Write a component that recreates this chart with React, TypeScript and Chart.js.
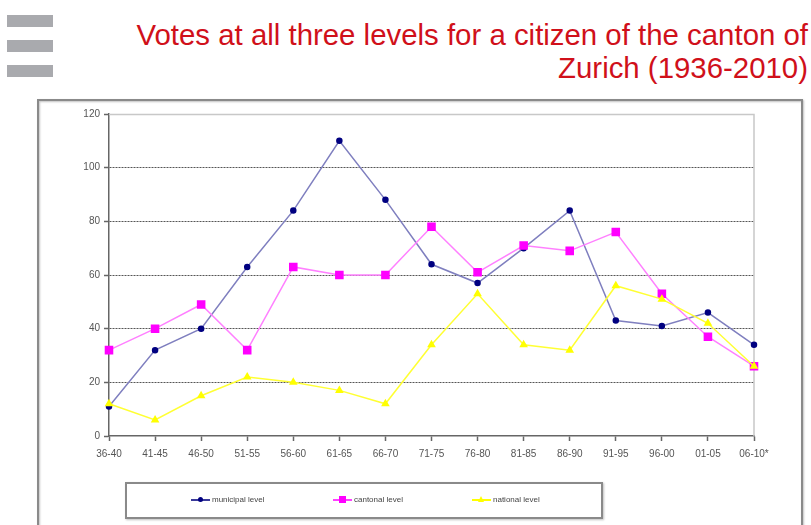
import React, { useEffect, useRef } from "react";
import { Chart, registerables } from "chart.js";

Chart.register(...registerables);

const categories = ["36-40", "41-45", "46-50", "51-55", "56-60", "61-65", "66-70", "71-75", "76-80", "81-85", "86-90", "91-95", "96-00", "01-05", "06-10*"];
const municipal = [11, 32, 40, 63, 84, 110, 88, 64, 57, 70, 84, 43, 41, 46, 34];
const cantonal = [32, 40, 49, 32, 63, 60, 60, 78, 61, 71, 69, 76, 53, 37, 26];
const national = [12, 6, 15, 22, 20, 17, 12, 34, 53, 34, 32, 56, 51, 42, 26];
const seriesNames = ["municipal level", "cantonal level", "national level"];
const titleLines = ["Votes at all three levels for a citizen of the canton of", "Zurich (1936-2010)"];
const yMax = 120;
const yStep = 20;

const TICK_FONT = { family: "'Liberation Sans', Arial, sans-serif", size: 10 };

const framePlugin = {
  id: "framePlugin",
  beforeDraw(chart: any) {
    const { ctx } = chart;
    ctx.save();
    ctx.strokeStyle = "#8a8a8a";
    ctx.lineWidth = 2;
    ctx.shadowColor = "rgba(0,0,0,0.25)";
    ctx.shadowBlur = 2;
    ctx.shadowOffsetX = 1;
    ctx.shadowOffsetY = 1;
    ctx.strokeRect(38, 100, 764, 460);
    ctx.restore();
  },
  beforeDatasetsDraw(chart: any) {
    const { ctx, chartArea } = chart;
    ctx.save();
    ctx.strokeStyle = "#c8c8c8";
    ctx.lineWidth = 1.5;
    ctx.beginPath();
    ctx.moveTo(chartArea.left, chartArea.top + 0.5);
    ctx.lineTo(chartArea.right, chartArea.top + 0.5);
    ctx.lineTo(chartArea.right, chartArea.bottom);
    ctx.stroke();
    ctx.restore();
  },
};

function LegendMarker({ kind, line, fill }: { kind: string; line: string; fill: string }) {
  let marker: React.ReactNode = null;
  if (kind === "circle") {
    marker = <div style={{ position: "absolute", left: 7, top: 1, width: 5, height: 5, borderRadius: "50%", background: fill }} />;
  } else if (kind === "rect") {
    marker = <div style={{ position: "absolute", left: 6, top: 0, width: 7, height: 7, background: fill }} />;
  } else {
    marker = (
      <div style={{ position: "absolute", left: 6, top: 0, width: 0, height: 0, borderLeft: "3.5px solid transparent", borderRight: "3.5px solid transparent", borderBottom: `6px solid ${fill}` }} />
    );
  }
  return (
    <div style={{ position: "relative", width: 19, height: 7, marginRight: 2 }}>
      <div style={{ position: "absolute", left: 0, top: 3, width: 19, height: 1.5, background: line }} />
      {marker}
    </div>
  );
}

export default function App() {
  const canvasRef = useRef<HTMLCanvasElement | null>(null);

  useEffect(() => {
    if (!canvasRef.current) return;
    const chart = new Chart(canvasRef.current, {
      type: "line",
      data: {
        labels: categories,
        datasets: [
          {
            label: seriesNames[0],
            data: municipal,
            borderColor: "#7f7fbf",
            backgroundColor: "#000080",
            pointBackgroundColor: "#000080",
            pointBorderColor: "#000080",
            pointStyle: "circle",
            pointRadius: 2.5,
            borderWidth: 1.5,
            tension: 0,
            order: 2,
          },
          {
            label: seriesNames[1],
            data: cantonal,
            borderColor: "#ff80ff",
            backgroundColor: "#ff00ff",
            pointBackgroundColor: "#ff00ff",
            pointBorderColor: "#ff00ff",
            pointStyle: "rect",
            pointRadius: 5,
            borderWidth: 1.5,
            tension: 0,
            order: 1,
          },
          {
            label: seriesNames[2],
            data: national,
            borderColor: "#ffff33",
            backgroundColor: "#ffff00",
            pointBackgroundColor: "#ffff00",
            pointBorderColor: "#ffff00",
            pointStyle: "triangle",
            pointRadius: 3.5,
            borderWidth: 1.5,
            tension: 0,
            order: 0,
          },
        ],
      },
      options: {
        animation: false,
        responsive: false,
        maintainAspectRatio: false,
        layout: { padding: { left: 0, top: 114, right: 57, bottom: 59 } },
        plugins: { legend: { display: false }, tooltip: { enabled: false }, title: { display: false } },
        scales: {
          x: {
            offset: false,
            afterFit: (s: any) => { s.height = 30; },
            grid: { display: true, drawOnChartArea: false, drawTicks: true, tickLength: 5, tickColor: "#666", tickWidth: 1.5 },
            border: { display: true, color: "#666", width: 1.5 },
            ticks: { color: "#555", font: TICK_FONT, padding: 7, maxRotation: 0, autoSkip: false },
          },
          y: {
            min: 0,
            max: yMax,
            afterFit: (s: any) => { s.width = 109; },
            grid: {
              color: (c: any) => (c.tick && (c.tick.value === yMax || c.tick.value === 0) ? "rgba(0,0,0,0)" : "#555"),
              lineWidth: 1,
              drawTicks: true,
              tickLength: 5,
              tickColor: "#666",
              tickWidth: 1.5,
              tickBorderDash: [],
            },
            border: { display: true, color: "#666", width: 1.5, dash: [2, 1] },
            ticks: { stepSize: yStep, color: "#555", font: TICK_FONT, padding: 4 },
          },
        },
      },
      plugins: [framePlugin],
    });
    return () => chart.destroy();
  }, []);

  const legendItems = [
    { name: seriesNames[0], kind: "circle", line: "#3a3a9a", fill: "#000080", left: 64 },
    { name: seriesNames[1], kind: "rect", line: "#ff40ff", fill: "#ff00ff", left: 206 },
    { name: seriesNames[2], kind: "triangle", line: "#ffff00", fill: "#ffff00", left: 345 },
  ];

  return (
    <div style={{ position: "absolute", left: 0, top: 0, width: 811, height: 525, background: "#fff", overflow: "hidden" }}>
      {[15, 40, 65].map((t) => (
        <div key={t} style={{ position: "absolute", left: 7, top: t, width: 46, height: 12, background: "#a9aaae" }} />
      ))}
      <div
        style={{
          position: "absolute",
          right: 3,
          top: 18,
          textAlign: "right",
          color: "#d0101a",
          fontFamily: "'Liberation Sans', Arial, sans-serif",
          fontSize: 29.4,
          lineHeight: "33px",
          whiteSpace: "nowrap",
        }}
      >
        {titleLines.map((l) => (
          <div key={l}>{l}</div>
        ))}
      </div>
      <canvas ref={canvasRef} width={811} height={525} style={{ position: "absolute", left: 0, top: 0, width: 811, height: 525 }} />
      <div
        style={{
          position: "absolute",
          left: 125,
          top: 482,
          width: 474,
          height: 33,
          border: "2px solid #8a8a8a",
          boxShadow: "1px 1px 2px rgba(0,0,0,0.25)",
          background: "#fff",
        }}
      >
        {legendItems.map((it) => (
          <div
            key={it.name}
            style={{
              position: "absolute",
              left: it.left,
              top: 11,
              display: "flex",
              alignItems: "center",
              fontFamily: "'Liberation Sans', Arial, sans-serif",
              fontSize: 8,
              color: "#444",
              whiteSpace: "nowrap",
            }}
          >
            <LegendMarker kind={it.kind} line={it.line} fill={it.fill} />
            <span>{it.name}</span>
          </div>
        ))}
      </div>
    </div>
  );
}
